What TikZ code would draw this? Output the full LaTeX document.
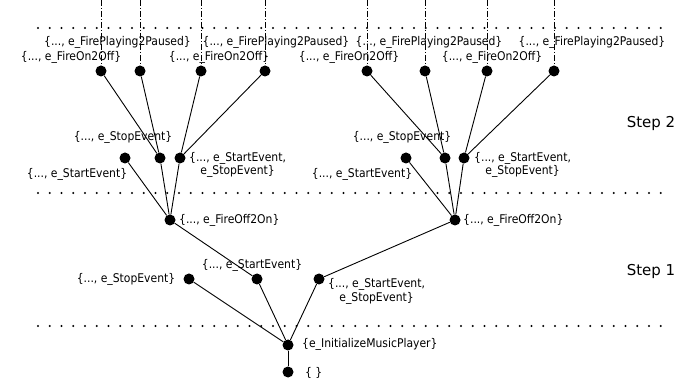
\documentclass[tikz,border=0pt]{standalone}
\usepackage{fontspec}
\setmainfont{DejaVu Sans}
\newfontfamily\condfont{DejaVu Sans Condensed}
\begin{document}
\begin{tikzpicture}[x=1pt,y=-1pt,
  dot/.style={circle,fill=black,inner sep=0pt,minimum size=11pt},
  lbl/.style={inner sep=0pt,font=\condfont\fontsize{12}{13.5}\selectfont,align=center},
  steplbl/.style={inner sep=0pt,font=\fontsize{15}{18}\selectfont},
  edge/.style={line width=0.9pt},
  sep/.style={line width=2.2pt,line cap=round,dash pattern=on 0pt off 11.75pt},
  dd/.style={line width=0.8pt,dash pattern=on 6pt off 2pt on 1pt off 2pt}]
\useasboundingbox (0,0) rectangle (699,379);
% separators
\draw[sep] (38,28) -- (662,28);
\draw[sep] (38,193) -- (662,193);
\draw[sep] (38,326) -- (662,326);
% nodes
\node[dot] (t1) at (101,71) {};
\node[dot] (t2) at (140,71) {};
\node[dot] (t3) at (201,71) {};
\node[dot] (t4) at (265,71) {};
\node[dot] (t5) at (367,71) {};
\node[dot] (t6) at (425,71) {};
\node[dot] (t7) at (487,71) {};
\node[dot] (t8) at (554,71) {};
\node[dot] (m1) at (125,158) {};
\node[dot] (m2) at (160,158) {};
\node[dot] (m3) at (180,158) {};
\node[dot] (m4) at (406,158) {};
\node[dot] (m5) at (445,158) {};
\node[dot] (m6) at (464,158) {};
\node[dot] (f1) at (170,220) {};
\node[dot] (f2) at (455,220) {};
\node[dot] (s1) at (189,279) {};
\node[dot] (s2) at (257,279) {};
\node[dot] (s3) at (319,279) {};
\node[dot] (ini) at (288,345) {};
\node[dot] (emp) at (288,372) {};
% dash-dot continuations
\foreach \n in {t1,t2,t3,t4,t5,t6,t7,t8}
  \coordinate (top\n) at (\n |- 0,0);
\foreach \n in {t1,t2,t3,t4,t5,t6,t7,t8}
  \draw[dd] (top\n) -- (\n.center);
% edges
\draw[edge] (t1) -- (m2);
\draw[edge] (t2) -- (m2);
\draw[edge] (t3) -- (m3);
\draw[edge] (t4) -- (m3);
\draw[edge] (t5) -- (m5);
\draw[edge] (t6) -- (m5);
\draw[edge] (t7) -- (m6);
\draw[edge] (t8) -- (m6);
\draw[edge] (m1) -- (f1);
\draw[edge] (m2) -- (f1);
\draw[edge] (m3) -- (f1);
\draw[edge] (m4) -- (f2);
\draw[edge] (m5) -- (f2);
\draw[edge] (m6) -- (f2);
\draw[edge] (f1) -- (s2);
\draw[edge] (f2) -- (s3);
\draw[edge] (s1) -- (ini);
\draw[edge] (s2) -- (ini);
\draw[edge] (s3) -- (ini);
\draw[edge] (ini) -- (emp);
% labels top
\node[lbl] (lp1) at (117.5,42) {\{..., e\_FirePlaying2Paused\}};
\node[lbl] (lp2) at (276,42) {\{..., e\_FirePlaying2Paused\}};
\node[lbl] (lp3) at (429,42) {\{..., e\_FirePlaying2Paused\}};
\node[lbl] (lp4) at (592,42) {\{..., e\_FirePlaying2Paused\}};
\node[lbl] (lo1) at (71,57) {\{..., e\_FireOn2Off\}};
\node[lbl] (lo2) at (219,57) {\{..., e\_FireOn2Off\}};
\node[lbl] (lo3) at (349,57) {\{..., e\_FireOn2Off\}};
\node[lbl] (lo4) at (492,57) {\{..., e\_FireOn2Off\}};
% labels mid
\node[lbl] (lm1) at (123,137) {\{..., e\_StopEvent\}};
\node[lbl] (lm2) at (402,137) {\{..., e\_StopEvent\}};
\node[lbl] (lm3) at (77,174) {\{..., e\_StartEvent\}};
\node[lbl] (lm4) at (362,174) {\{..., e\_StartEvent\}};
\node[lbl,anchor=west] (lm5) at (189,165) {\{..., e\_StartEvent,\\e\_StopEvent\}};
\node[lbl,anchor=west] (lm6) at (474,165) {\{..., e\_StartEvent,\\e\_StopEvent\}};
\node[lbl,anchor=west] (lf1) at (179,220) {\{..., e\_FireOff2On\}};
\node[lbl,anchor=west] (lf2) at (463,220) {\{..., e\_FireOff2On\}};
% labels step 1
\node[lbl] (ls1) at (252,265) {\{..., e\_StartEvent\}};
\node[lbl] (ls2) at (126,279) {\{..., e\_StopEvent\}};
\node[lbl,anchor=west] (ls3) at (328,291.5) {\{..., e\_StartEvent,\\e\_StopEvent\}};
\node[lbl,anchor=west] (lini) at (302,344) {\{e\_InitializeMusicPlayer\}};
\node[lbl,anchor=west] (lemp) at (305,373) {\{ \}};
% step labels
\node[steplbl] (st2) at (651,123) {Step 2};
\node[steplbl] (st1) at (651,271) {Step 1};
\end{tikzpicture}
\end{document}
